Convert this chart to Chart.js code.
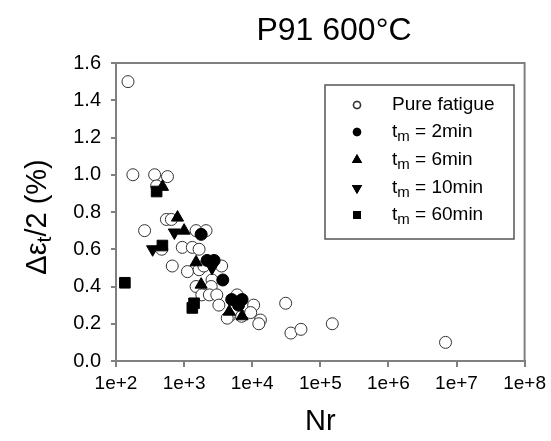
<!DOCTYPE html>
<html>
<head>
<meta charset="utf-8">
<title>P91 600°C</title>
<script src="https://cdn.jsdelivr.net/npm/chart.js@4.4.0/dist/chart.umd.min.js"></script>
<style>
  html, body { margin: 0; padding: 0; background: #fff; }
</style>
</head>
<body>

<canvas id="myChart" width="551" height="441"></canvas>

<script>
    // values: [Nr, strain amplitude %]
    const pureFatigue = [
        [150, 1.50], [177, 1.00], [369, 1.00], [570, 0.99], [395, 0.94],
        [263, 0.70], [550, 0.76], [650, 0.76], [1500, 0.70], [2100, 0.70],
        [470, 0.60], [940, 0.61], [1320, 0.61], [1660, 0.60], [670, 0.51],
        [1120, 0.48], [1660, 0.49], [1950, 0.51], [3560, 0.51], [2570, 0.435],
        [1500, 0.40], [2500, 0.40], [1820, 0.355], [2350, 0.355], [3020, 0.355],
        [6000, 0.355], [3240, 0.30], [10500, 0.30], [31000, 0.31], [4600, 0.24],
        [7000, 0.24], [4300, 0.23], [9500, 0.26], [13200, 0.22], [12500, 0.20],
        [37000, 0.15], [52000, 0.17], [150000, 0.20], [6900000, 0.10]
    ];
    const tm2min = [
        [1780, 0.68], [2180, 0.54], [2760, 0.54], [3700, 0.435],
        [5000, 0.33], [7100, 0.33], [6300, 0.30]
    ];
    const tm6min = [
        [482, 0.935], [800, 0.77], [1000, 0.70], [1500, 0.53],
        [1780, 0.41], [4600, 0.265], [7100, 0.24]
    ];
    const tm10min = [[720, 0.69], [345, 0.60], [2570, 0.50]];
    const tm60min = [[395, 0.91], [480, 0.62], [135, 0.42], [1400, 0.31], [1320, 0.285]];

    const legendLabels = ["Pure fatigue", "2min", "6min", "10min", "60min"];
    const xTickValues = [1e2, 1e3, 1e4, 1e5, 1e6, 1e7, 1e8];
    const xTickLabels = ["1e+2", "1e+3", "1e+4", "1e+5", "1e+6", "1e+7", "1e+8"];

    const FONT = "'Liberation Sans', Arial, sans-serif";
    const AXIS_GREY = "#808080";

    function toPoints(arr) {
        return arr.map(function(p) { return { x: p[0], y: p[1] }; });
    }

    const datasets = [
        { label: legendLabels[1], data: toPoints(tm2min), pointStyle: "circle", pointRadius: 6,
          backgroundColor: "#000", borderColor: "#000", borderWidth: 1, order: 1 },
        { label: legendLabels[2], data: toPoints(tm6min), pointStyle: "triangle", pointRadius: 7,
          backgroundColor: "#000", borderColor: "#000", borderWidth: 1, order: 2 },
        { label: legendLabels[3], data: toPoints(tm10min), pointStyle: "triangle", pointRotation: 180, pointRadius: 7,
          backgroundColor: "#000", borderColor: "#000", borderWidth: 1, order: 3 },
        { label: legendLabels[4], data: toPoints(tm60min), pointStyle: "rect", pointRadius: 7.5,
          backgroundColor: "#000", borderColor: "#000", borderWidth: 1, order: 4 },
        { label: legendLabels[0], data: toPoints(pureFatigue), pointStyle: "circle", pointRadius: 6,
          backgroundColor: "#fff", borderColor: "#333", borderWidth: 1, order: 5 }
    ];

    // frame, titles and the boxed legend (subscripts need manual text)
    const decorations = {
        id: "decorations",
        afterDraw: function(chart) {
            const ctx = chart.ctx;
            const a = chart.chartArea;
            ctx.save();

            // top and right frame
            ctx.strokeStyle = AXIS_GREY;
            ctx.lineWidth = 2;
            ctx.beginPath();
            ctx.moveTo(a.left, a.top);
            ctx.lineTo(a.right, a.top);
            ctx.lineTo(a.right, a.bottom);
            ctx.stroke();

            ctx.fillStyle = "#000";
            ctx.textBaseline = "middle";

            // main title
            ctx.textAlign = "center";
            ctx.font = "32px " + FONT;
            ctx.fillText("P91 600°C", 334, 31);

            // x title
            ctx.font = "29px " + FONT;
            ctx.fillText("Nr", (a.left + a.right) / 2, 422);

            // y title with subscript t
            ctx.translate(38, 217);
            ctx.rotate(-Math.PI / 2);
            ctx.textAlign = "left";
            const big = "29px " + FONT, small = "21px " + FONT;
            ctx.font = big;
            const w1 = ctx.measureText("Δε").width;
            const w3 = ctx.measureText("/2 (%)").width;
            ctx.font = small;
            const w2 = ctx.measureText("t").width;
            let x0 = -(w1 + w2 + w3) / 2;
            ctx.font = big;
            ctx.fillText("Δε", x0, 0);
            ctx.font = small;
            ctx.fillText("t", x0 + w1, 7);
            ctx.font = big;
            ctx.fillText("/2 (%)", x0 + w1 + w2, 0);
            ctx.setTransform(1, 0, 0, 1, 0, 0);

            // legend box
            const bx = 325, by = 85, bw = 189, bh = 154;
            ctx.fillStyle = "#fff";
            ctx.fillRect(bx, by, bw, bh);
            ctx.strokeStyle = "#555";
            ctx.lineWidth = 1.5;
            ctx.strokeRect(bx, by, bw, bh);

            const rows = [105, 132, 160, 188, 215];
            const order = [4, 0, 1, 2, 3];
            order.forEach(function(di, i) {
                const ds = chart.data.datasets[di];
                const y = rows[i];
                Chart.helpers.drawPoint(ctx, {
                    pointStyle: ds.pointStyle,
                    rotation: ds.pointRotation || 0,
                    radius: ds.pointStyle === "circle" ? 3.5 : 4.5,
                    borderWidth: 1
                }, 357, y);
                ctx.fillStyle = ds.backgroundColor;
                ctx.strokeStyle = ds.borderColor;
                ctx.fill();
                ctx.stroke();

                ctx.fillStyle = "#000";
                ctx.textAlign = "left";
                ctx.font = "19px " + FONT;
                if (i === 0) {
                    ctx.fillText(ds.label, 392, y);
                } else {
                    ctx.fillText("t", 392, y);
                    const tw = ctx.measureText("t").width;
                    ctx.font = "15px " + FONT;
                    ctx.fillText("m", 392 + tw, y + 5);
                    const mw = ctx.measureText("m").width;
                    ctx.font = "19px " + FONT;
                    ctx.fillText(" = " + ds.label, 392 + tw + mw, y);
                }
            });
            ctx.restore();
        }
    };

    new Chart("myChart", {
        type: "scatter",
        data: { datasets: datasets },
        options: {
            responsive: false,
            animation: false,
            layout: { padding: { top: 63, right: 22, left: 0, bottom: 0 } },
            plugins: {
                legend: { display: false },
                tooltip: { enabled: false }
            },
            scales: {
                x: {
                    type: "logarithmic",
                    min: 1e2,
                    max: 1e8,
                    afterBuildTicks: function(scale) {
                        scale.ticks = xTickValues.map(function(v) { return { value: v }; });
                    },
                    afterFit: function(scale) { scale.height = 80; },
                    ticks: {
                        autoSkip: false,
                        maxRotation: 0,
                        color: "#000",
                        padding: 5,
                        font: { family: FONT, size: 19 },
                        callback: function(v, i) { return xTickLabels[i]; }
                    },
                    grid: { drawOnChartArea: false, tickLength: 6, color: AXIS_GREY, lineWidth: 2 },
                    border: { color: AXIS_GREY, width: 2 }
                },
                y: {
                    min: 0,
                    max: 1.6,
                    afterFit: function(scale) { scale.width = 116; },
                    ticks: {
                        stepSize: 0.2,
                        color: "#000",
                        padding: 10,
                        font: { family: FONT, size: 20 },
                        callback: function(v) { return v.toFixed(1); }
                    },
                    grid: { drawOnChartArea: false, tickLength: 5, color: AXIS_GREY, lineWidth: 2 },
                    border: { color: AXIS_GREY, width: 2 }
                }
            }
        },
        plugins: [decorations]
    });
</script>

</body>
</html>
